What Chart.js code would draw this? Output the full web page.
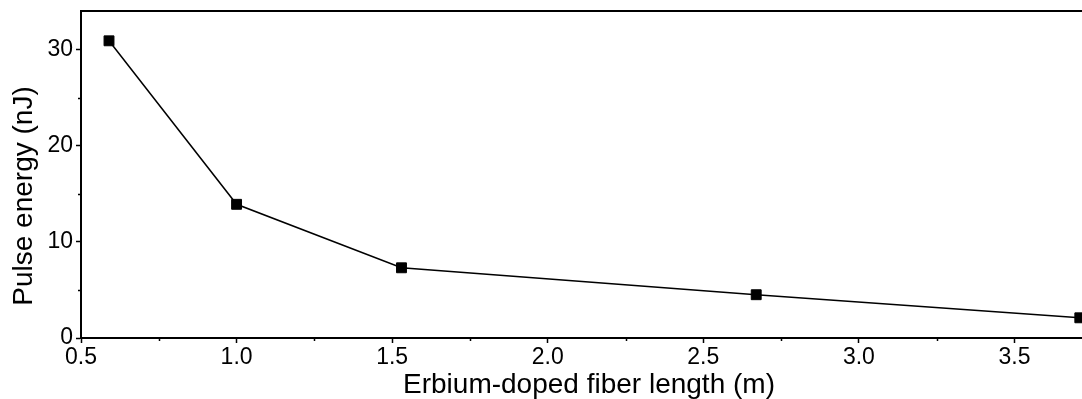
<!DOCTYPE html>
<html>
<head>
<meta charset="utf-8">
<script src="https://cdn.jsdelivr.net/npm/chart.js@4/dist/chart.umd.min.js"></script>
<style>
    html, body { margin: 0; padding: 0; background: #fff; overflow: hidden; }
    canvas { display: block; }
</style>
</head>
<body>
<canvas id="chart" width="1082" height="399"></canvas>
<script>
// fiber length (m) vs pulse energy (nJ)
const fiberLength = [0.59, 1.0, 1.53, 2.67, 3.71];
const pulseEnergy = [30.9, 13.9, 7.3, 4.5, 2.1];

const xTitle = "Erbium-doped fiber length (m)";
const yTitle = "Pulse energy (nJ)";
const xMinorTicks = [0.75, 1.25, 1.75, 2.25, 2.75, 3.25];
const yMinorTicks = [5, 15, 25];

const FONT = "'Liberation Sans', Arial, sans-serif";

// minor ticks + top frame line + axis titles
const extras = {
    id: 'extras',
    afterDraw(chart) {
        const ctx = chart.ctx;
        const area = chart.chartArea;
        const x = chart.scales.x;
        const y = chart.scales.y;
        ctx.save();
        ctx.strokeStyle = '#000';
        ctx.lineWidth = 1.5;
        ctx.beginPath();
        xMinorTicks.forEach(v => {
            const px = Math.round(x.getPixelForValue(v)) + 0.5;
            ctx.moveTo(px, area.bottom);
            ctx.lineTo(px, area.bottom + 3);
        });
        yMinorTicks.forEach(v => {
            const py = Math.round(y.getPixelForValue(v)) + 0.5;
            ctx.moveTo(area.left - 3, py);
            ctx.lineTo(area.left, py);
        });
        ctx.stroke();

        ctx.lineWidth = 2;
        ctx.beginPath();
        ctx.moveTo(area.left, area.top);
        ctx.lineTo(area.right, area.top);
        ctx.stroke();

        ctx.fillStyle = '#000';
        ctx.font = '28px ' + FONT;
        ctx.textAlign = 'center';
        ctx.textBaseline = 'middle';
        ctx.fillText(xTitle, 589, 385);

        ctx.translate(24, 196);
        ctx.rotate(-Math.PI / 2);
        ctx.fillText(yTitle, 0, 0);
        ctx.restore();
    }
};

new Chart(document.getElementById('chart').getContext('2d'), {
    type: 'line',
    data: {
        labels: fiberLength,
        datasets: [
            {
                data: fiberLength.map((v, i) => ({ x: v, y: pulseEnergy[i] })),
                borderColor: '#000',
                borderWidth: 1.5,
                backgroundColor: '#000',
                pointStyle: 'rect',
                pointRadius: 7,
                pointBorderWidth: 1,
                pointBorderColor: '#000',
                pointBackgroundColor: '#000',
                tension: 0,
                clip: false
            }
        ]
    },
    options: {
        responsive: false,
        animation: false,
        layout: { autoPadding: false, padding: { top: 11, right: 0, left: 0, bottom: 0 } },
        plugins: {
            legend: { display: false },
            tooltip: { enabled: false }
        },
        scales: {
            x: {
                type: 'linear',
                min: 0.5,
                max: 3.717,
                afterFit: (scale) => {
                    scale.height = 61;
                    scale.paddingLeft = 0;
                    scale.paddingRight = 0;
                },
                border: { display: true, color: '#000', width: 2 },
                grid: {
                    drawOnChartArea: false,
                    drawTicks: true,
                    tickLength: 5,
                    tickColor: '#000',
                    tickWidth: 1.5
                },
                ticks: {
                    stepSize: 0.5,
                    includeBounds: false,
                    maxRotation: 0,
                    padding: 1,
                    color: '#000',
                    font: { family: FONT, size: 23 },
                    callback: (v) => v.toFixed(1)
                }
            },
            y: {
                min: 0,
                max: 34,
                afterFit: (scale) => {
                    scale.width = 81;
                    scale.paddingTop = 0;
                    scale.paddingBottom = 0;
                },
                border: { display: true, color: '#000', width: 2 },
                grid: {
                    drawOnChartArea: false,
                    drawTicks: true,
                    tickLength: 5,
                    tickColor: '#000',
                    tickWidth: 1.5
                },
                ticks: {
                    stepSize: 10,
                    includeBounds: false,
                    padding: 3,
                    color: '#000',
                    font: { family: FONT, size: 23 }
                }
            }
        }
    },
    plugins: [extras]
});
</script>
</body>
</html>
